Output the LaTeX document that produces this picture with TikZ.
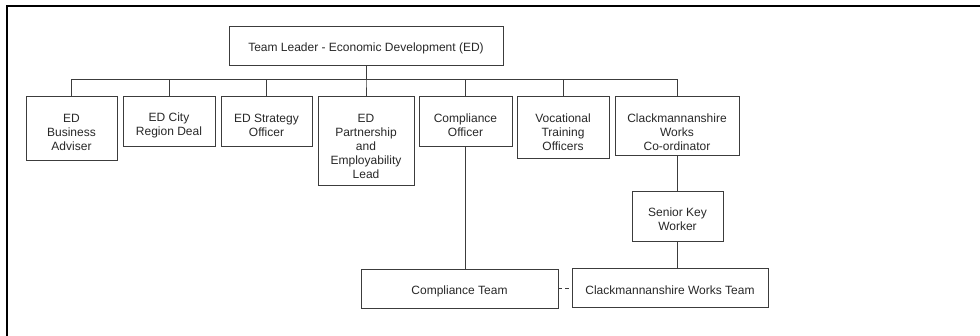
\documentclass[tikz,border=0pt]{standalone}
\usepackage{fontspec}
\setmainfont{Liberation Sans}
\definecolor{linegray}{RGB}{60, 60, 60}
\definecolor{textgray}{RGB}{40, 40, 40}
\usetikzlibrary{positioning, calc}

\begin{document}
\begin{tikzpicture}[x=1pt, y=-1pt,
  post/.style={draw=linegray, line width=0.9pt, fill=white, align=center, inner sep=0pt, text=textgray, font=\fontsize{12pt}{14pt}\selectfont},
  link/.style={draw=linegray, line width=0.9pt},
  frame/.style={draw=black, line width=2pt}
]
  \useasboundingbox (0,0) rectangle (980,336);

  % Page frame (top and left only)
  \draw[frame] (7,336) -- (7,6.5) -- (980,6.5);

  % Head of team
  \node[post, minimum width=274pt, minimum height=39pt] (lead) at (366,45.5) {\rule{0pt}{15pt}Team Leader - Economic Development (ED)};

  % First row
  \node[post, minimum width=91pt, minimum height=64pt] (adviser) at (71.5,128) {\rule{0pt}{17.5pt}ED\\Business\\Adviser};
  \node[post, minimum width=92pt, minimum height=50pt] (cityregion) at (169,121) {\rule{0pt}{16.6pt}ED City\\Region Deal};
  \node[post, minimum width=91pt, minimum height=50pt] (strategy) at (266.5,121) {\rule{0pt}{16.6pt}ED Strategy\\Officer};
  \node[post, minimum width=96pt, minimum height=89pt] (partnership) at (366,140.5) {\rule{0pt}{19.6pt}ED\\Partnership\\and\\Employability\\Lead};
  \node[post, minimum width=93pt, minimum height=50pt] (compliance) at (465.5,121) {\rule{0pt}{16.6pt}Compliance\\Officer};
  \node[post, minimum width=92pt, minimum height=62pt] (vocational) at (563,127) {\rule{0pt}{18.6pt}Vocational\\Training\\Officers};
  \node[post, minimum width=124pt, minimum height=59pt] (cwcoord) at (677,125.5) {\rule{0pt}{21.6pt}Clackmannanshire\\Works\\Co-ordinator};

  % Lower levels
  \node[post, minimum width=91pt, minimum height=50pt] (keyworker) at (677.5,216) {\rule{0pt}{15.2pt}Senior Key\\Worker};
  \node[post, minimum width=197pt, minimum height=39pt] (compteam) at (459.5,288.5) {\rule{0pt}{15pt}Compliance Team};
  \node[post, minimum width=196pt, minimum height=39pt] (cwteam) at (670,287.5) {\rule{0pt}{13.6pt}Clackmannanshire Works Team};

  % Connectors
  \foreach \n in {adviser, cityregion, strategy, partnership, compliance, vocational, cwcoord}
    \draw[link] (lead.south) -- ++(0,14) -| (\n.north);
  \draw[link] (compliance.south) -- (compliance.south |- compteam.north);
  \draw[link] (cwcoord.south) -- (cwcoord.south |- keyworker.north);
  \draw[link] (keyworker.south) -- (keyworker.south |- cwteam.north);
  \draw[link, dashed, dash pattern=on 4pt off 3pt] (compteam.east) -- (compteam.east -| cwteam.west);
\end{tikzpicture}
\end{document}
